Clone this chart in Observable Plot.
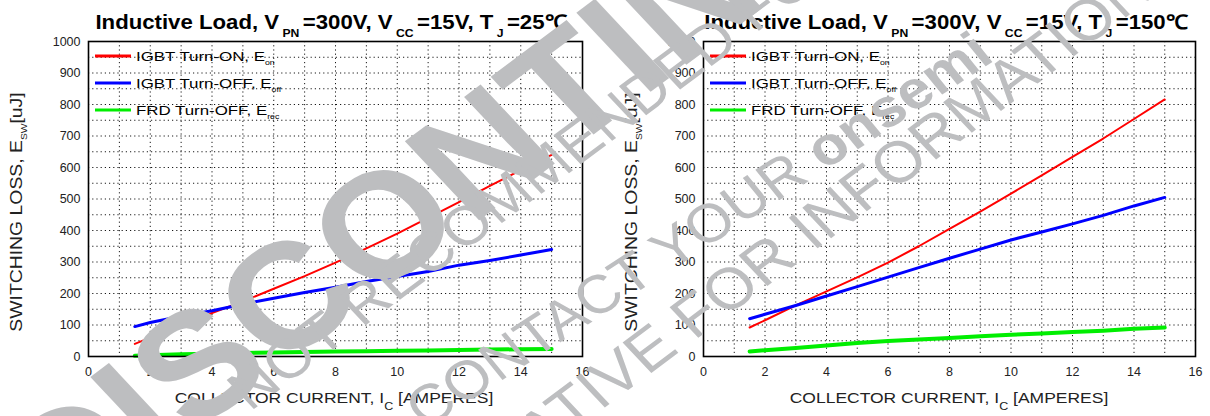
<!DOCTYPE html>
<html>
<head>
<meta charset="utf-8">
<script src="https://cdn.jsdelivr.net/npm/d3@7"></script>
<script src="https://cdn.jsdelivr.net/npm/@observablehq/plot@0.6"></script>
<style>
  html, body { margin: 0; padding: 0; background: #fff; }
  #wrap { position: relative; width: 1210px; height: 416px; overflow: hidden; background: #fff; }
  #wrap > div.panel { position: absolute; top: 0; }
  #overlay { position: absolute; left: 0; top: 0; pointer-events: none; }
</style>
</head>
<body>
<div id="wrap">
  <div class="panel" id="p1" style="left:0"></div>
  <div class="panel" id="p2" style="left:605px"></div>
</div>
<script>
// ---- data ----
const current = [1.5, 2, 3, 4, 5, 6, 7, 8, 9, 10, 11, 12, 13, 14, 15];
// Tj = 25 C
const eon25  = [40, 60, 98, 138, 175, 215, 255, 298, 343, 390, 440, 490, 542, 592, 640];
const eoff25 = [95, 108, 128, 145, 166, 185, 203, 220, 238, 254, 270, 290, 305, 322, 340];
const erec25 = [2, 4, 7, 9, 11, 13, 14, 16, 17, 18, 19, 21, 22, 23, 24];
// Tj = 150 C
const eon150  = [92, 115, 162, 207, 251, 298, 350, 405, 460, 517, 575, 634, 692, 754, 816];
const eoff150 = [120, 134, 162, 192, 222, 252, 282, 312, 341, 370, 395, 421, 448, 478, 505];
const erec150 = [16, 20, 27, 35, 43, 49, 54, 59, 64, 69, 73, 78, 82, 88, 92];

const xTicks = [0, 2, 4, 6, 8, 10, 12, 14, 16];
const yTicks = [0, 100, 200, 300, 400, 500, 600, 700, 800, 900, 1000];
const xGrid = [1, 2, 3, 4, 5, 6, 7, 8, 9, 10, 11, 12, 13, 14, 15];
const yGrid = [50, 100, 150, 200, 250, 300, 350, 400, 450, 500, 550, 600, 650, 700, 750, 800, 850, 900, 950];

const seriesNames = ["IGBT Turn-ON, E", "IGBT Turn-OFF, E", "FRD Turn-OFF, E"];
const seriesSubs = ["on", "off", "rec"];
const seriesColors = ["#ff0000", "#0000ff", "#00ee00"];
const seriesWidths = [2, 3, 4];

const titleTemps = ["25", "150"];

const textFont = "'Liberation Sans', Arial, sans-serif";

function panel(series, ml, mr) {
  const grid = {stroke: "#000", strokeOpacity: 0.9, strokeWidth: 1, strokeDasharray: "1.2,3"};
  return Plot.plot({
    width: 605, height: 416,
    marginLeft: ml, marginRight: mr, marginTop: 41, marginBottom: 60,
    x: {domain: [0, 16], ticks: xTicks, tickSize: 0, tickPadding: 11, label: null, tickFormat: d => String(d)},
    y: {domain: [0, 1000], ticks: yTicks, tickSize: 0, tickPadding: 8, label: null, tickFormat: d => String(d)},
    style: {fontFamily: textFont, fontSize: "12.5px", color: "#222", background: "transparent"},
    marks: [
      Plot.gridX(xGrid, grid),
      Plot.gridY(yGrid, grid),
      ...series.map((s, i) => Plot.lineY(s, {x: current, stroke: seriesColors[i], strokeWidth: seriesWidths[i]})),
      Plot.frame({stroke: "#000", strokeWidth: 1.6})
    ]
  });
}

document.getElementById("p1").appendChild(panel([eon25, eoff25, erec25], 88, 23));
document.getElementById("p2").appendChild(panel([eon150, eoff150, erec150], 98, 15));

// ---- overlay: titles, legends, axis labels, watermark ----
const NS = "http://www.w3.org/2000/svg";
const ov = document.createElementNS(NS, "svg");
ov.setAttribute("id", "overlay");
ov.setAttribute("width", 1210);
ov.setAttribute("height", 416);
ov.setAttribute("viewBox", "0 0 1210 416");
document.getElementById("wrap").appendChild(ov);

function el(tag, attrs, parent) {
  const e = document.createElementNS(NS, tag);
  for (const k in attrs) e.setAttribute(k, attrs[k]);
  (parent || ov).appendChild(e);
  return e;
}
function richText(parent, attrs, parts, subSize, subDy) {
  const t = el("text", attrs, parent);
  let down = false;
  for (const [str, isSub] of parts) {
    const ts = el("tspan", {}, t);
    if (isSub && !down) { ts.setAttribute("dy", subDy); down = true; }
    else if (!isSub && down) { ts.setAttribute("dy", -subDy); down = false; }
    if (isSub) ts.setAttribute("font-size", subSize);
    ts.textContent = str;
  }
  return t;
}

const panelOffset = [0, 615];
const frameLeft = 88;
panelOffset.forEach((off, p) => {
  // title
  richText(ov, {transform: `translate(${331 + off},29) scale(1.11,1)`, "text-anchor": "middle", "font-family": textFont,
      "font-weight": "bold", "font-size": 20, fill: "#000"},
    [["Inductive Load, V", false], [" PN ", true], ["=300V, V", false], [" CC ", true],
     ["=15V, T", false], [" J ", true], ["=" + titleTemps[p] + "℃", false]], 11, 8);
  // legend
  seriesNames.forEach((name, i) => {
    const y = 56 + i * 27;
    el("line", {x1: frameLeft + 7 + off, x2: frameLeft + 43 + off, y1: y, y2: y,
      stroke: seriesColors[i], "stroke-width": 3});
    richText(ov, {transform: `translate(${frameLeft + 48 + off},${y + 5}) scale(1.25,1)`, "font-family": textFont,
        "font-size": 13.5, fill: "#000"},
      [[name, false], [seriesSubs[i], true]], 7, 4);
  });
  // y label
  richText(ov, {transform: `translate(${22 + off},212) rotate(-90) scale(1.14,1)`, "text-anchor": "middle",
      "font-family": textFont, "font-size": 17, fill: "#222"},
    [["SWITCHING LOSS, E", false], ["SW", true], ["[uJ]", false]], 9, 5);
  // x label
  richText(ov, {transform: `translate(${334 + off},403) scale(1.25,1)`, "text-anchor": "middle", "font-family": textFont,
      "font-size": 14, fill: "#222"},
    [["COLLECTOR CURRENT, I", false], ["C", true], [" [AMPERES]", false]], 10, 7);
});

// watermark stamp (split into glyphs; glyphs wholly outside the picture are dropped)
const wm = "#bdbec0";
function watermark(transform, parts, size) {
  const t = el("text", {transform, "font-family": textFont, "font-size": size, fill: wm});
  for (const [str, bold] of parts) {
    const ts = el("tspan", bold ? {"font-weight": "bold"} : {}, t);
    ts.textContent = str;
  }
  const glyphs = [];
  let idx = 0;
  parts.forEach(([str, bold]) => {
    for (const ch of str) {
      if (ch !== " ") {
        const pos = t.getStartPositionOfChar(idx);
        glyphs.push({ch, bold, x: pos.x, y: pos.y});
      }
      idx++;
    }
  });
  t.remove();
  const box = ov.getBoundingClientRect();
  glyphs.forEach(g => {
    const gt = el("text", {transform, x: g.x, y: g.y, "font-family": textFont, "font-size": size,
      "font-weight": g.bold ? "bold" : "normal", fill: wm});
    gt.textContent = g.ch;
    const r = gt.getBoundingClientRect();
    if (r.right < box.left || r.left > box.right || r.bottom < box.top || r.top > box.bottom) gt.remove();
  });
}
watermark("translate(63,532) scale(1.12,1) rotate(-40)", [["DISCONTINUED", true]], 150);
watermark("translate(250,412) scale(1.12,1) rotate(-40)", [["NOT RECOMMENDED FOR NEW DESIGN", false]], 55);
watermark("translate(425,430) scale(1.12,1) rotate(-36)", [["CONTACT YOUR ", false], ["onsemi", true]], 54);
watermark("translate(240,681) scale(1.12,1) rotate(-40)", [["REPRESENTATIVE FOR INFORMATION", false]], 58);
</script>
</body>
</html>
